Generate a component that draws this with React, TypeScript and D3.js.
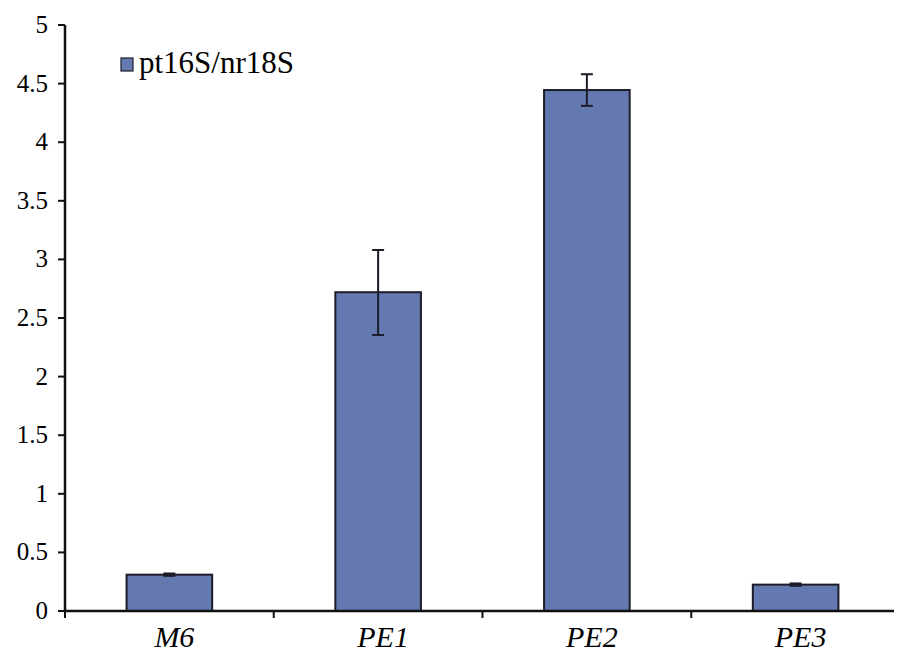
import React from "react";
import * as d3 from "d3";

const categories = ["M6", "PE1", "PE2", "PE3"];
const values = [0.31, 2.72, 4.445, 0.225];
const errLow = [0.3, 2.355, 4.31, 0.215];
const errHigh = [0.32, 3.08, 4.58, 0.235];
const yTicks = [0, 0.5, 1, 1.5, 2, 2.5, 3, 3.5, 4, 4.5, 5];
const seriesName = "pt16S/nr18S";

export default function App() {
  const W = 902, H = 655;
  const x0 = 65, x1 = 900;
  const y = d3.scaleLinear().domain([0, 5]).range([611, 25]);
  const x = d3.scaleBand().domain(categories).range([x0, x1]).paddingInner(0.59).paddingOuter(0.295);
  const band = d3.scaleBand().domain(categories).range([x0, x1]);
  const fill = "#6479B0";
  const stroke = "#1c1c2a";
  return (
    <div style={{ margin: -8, width: W, height: H, overflow: "hidden" }}>
      <svg width={W} height={H}>
        {categories.map((c, i) => (
          <g key={c}>
            <rect x={x(c)!} y={y(values[i])} width={x.bandwidth()} height={y(0) - y(values[i])} fill={fill} stroke={stroke} strokeWidth={2} />
            <line x1={x(c)! + x.bandwidth() / 2} x2={x(c)! + x.bandwidth() / 2} y1={y(errHigh[i])} y2={y(errLow[i])} stroke={stroke} strokeWidth={2} />
            <line x1={x(c)! + x.bandwidth() / 2 - 6} x2={x(c)! + x.bandwidth() / 2 + 6} y1={y(errHigh[i])} y2={y(errHigh[i])} stroke={stroke} strokeWidth={2} />
            <line x1={x(c)! + x.bandwidth() / 2 - 6} x2={x(c)! + x.bandwidth() / 2 + 6} y1={y(errLow[i])} y2={y(errLow[i])} stroke={stroke} strokeWidth={2} />
            <text x={band(c)! + band.bandwidth() / 2 + 5} y={647} textAnchor="middle" fontFamily="Liberation Serif" fontStyle="italic" fontSize={30}>{c}</text>
          </g>
        ))}
        <line x1={x0} x2={x0} y1={y(5)} y2={y(0) + 1} stroke="#111" strokeWidth={2.5} />
        {yTicks.map((t) => (
          <g key={t}>
            <line x1={x0 - 7} x2={x0} y1={y(t)} y2={y(t)} stroke="#111" strokeWidth={2} />
            <text x={x0 - 17} y={y(t) + 8} textAnchor="end" fontFamily="Liberation Serif" fontSize={25}>{t}</text>
          </g>
        ))}
        <line x1={x0} x2={W} y1={y(0)} y2={y(0)} stroke="#111" strokeWidth={2.5} />
        {categories.map((c) => (
          <line key={c} x1={band(c)!} x2={band(c)!} y1={y(0)} y2={y(0) + 7} stroke="#111" strokeWidth={2} />
        ))}
        <line x1={x1} x2={x1} y1={y(0)} y2={y(0) + 7} stroke="#111" strokeWidth={2} />
        <rect x={121} y={58} width={12} height={13} fill={fill} stroke={stroke} strokeWidth={1.2} />
        <text x={139} y={73} fontFamily="Liberation Serif" fontSize={31}>{seriesName}</text>
      </svg>
    </div>
  );
}
